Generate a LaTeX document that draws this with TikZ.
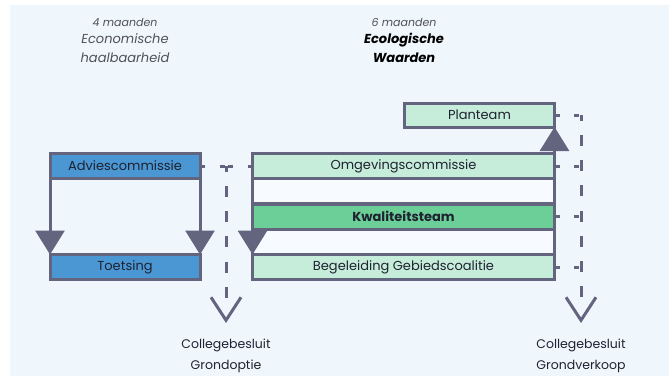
\documentclass[tikz,border=0pt]{standalone}
\usepackage{fontspec}
\setmainfont{Poppins}
\usepackage{tikz}
\usetikzlibrary{arrows.meta, positioning}
\usepackage{xcolor}
\definecolor{paper}{HTML}{EFF6FC}
\definecolor{frame}{HTML}{63657F}
\definecolor{advice}{HTML}{4A97D4}
\definecolor{mint}{HTML}{C6ECDA}
\definecolor{jade}{HTML}{6CCF98}
\definecolor{blank}{HTML}{F7FAFE}
\definecolor{ink}{HTML}{1F2230}
\definecolor{muted}{HTML}{505157}
\tikzset{%
	every box/.style={
		draw=frame,
		line width=3pt,
		inner sep=0pt,
		outer sep=0pt,
		minimum height=25pt,
		text=ink,
		font=\fontsize{13}{15}\selectfont
	},
	box blue/.style={fill=advice, minimum width=150pt},
	box mint/.style={fill=mint, minimum width=302pt},
	box jade/.style={fill=jade, minimum width=302pt, font=\fontsize{13}{15}\selectfont\bfseries},
	box blank/.style={fill=blank, minimum width=302pt},
	flow/.style={draw=frame, line width=3pt, -{Triangle[length=24pt, width=29pt]}},
	link/.style={draw=frame, line width=3pt, dash pattern=on 5pt off 14.5pt},
	rail/.style={draw=frame, line width=3pt, dash pattern=on 11pt off 14.25pt, dash phase=5.5pt},
	vee/.style={draw=frame, line width=3pt, dash pattern=on 0pt off 50pt, -{Straight Barb[length=23pt, width=30pt]}},
}

\begin{document}
\begin{tikzpicture}[x=1pt, y=-1pt]

	\useasboundingbox (0,0) rectangle (669,378);
	\fill [paper] (10,5) rectangle (669,376);

	% headings
	\node [font=\itshape\fontsize{11}{13}\selectfont, text=muted] (econ-months) at (125,22) {4 maanden};
	\node [align=center, font=\itshape\fontsize{13}{19}\selectfont, text=muted] (econ) at (125,48) {Economische\\haalbaarheid};
	\node [font=\itshape\fontsize{11}{13}\selectfont, text=muted] (eco-months) at (404,22) {6 maanden};
	\node [align=center, font=\bfseries\itshape\fontsize{13}{19}\selectfont, text=black] (eco) at (404,48) {Ecologische\\Waarden};

	% left group
	\node [every box/.try, box blue/.try] (advies) at (125,166) {Adviescommissie};
	\node [every box/.try, box blue/.try] (toetsing) at (125,267) {Toetsing};

	% right group
	\node [every box/.try, box mint/.try, minimum width=150pt, minimum height=24pt] (planteam) at (479.5,115) {Planteam};
	\foreach \m/\n/\t [count=\y from 0] in {mint/omgeving/Omgevingscommissie, blank/gap-a/{}, jade/kwaliteit/Kwaliteitsteam, blank/gap-b/{}, mint/begeleiding/Begeleiding Gebiedscoalitie}
	\node [every box/.try, box \m/.try] (\n) at (403.5,166+\y*25.25) {\t};

	\draw [flow] (advies.south west) -- (toetsing.north west);
	\draw [flow] (advies.south east) -- (toetsing.north east);
	\draw [flow] (kwaliteit.south west) -- (begeleiding.north west);
	\draw [flow] (omgeving.north east) -- (planteam.south east);

	% decision lines
	\coordinate (optie-top) at (226,166);
	\coordinate (optie-end) at (226,300);
	\coordinate (optie-tip) at (226,323);
	\coordinate (verkoop-top) at (581,115);
	\coordinate (verkoop-end) at (581,300);
	\coordinate (verkoop-tip) at (581,323);

	\draw [link] (advies.east) -- (optie-top);
	\draw [link] (omgeving.west) -- (optie-top);
	\draw [rail] (optie-top) -- (optie-end);
	\draw [vee] (optie-end) -- (optie-tip);

	\draw [link] (planteam.east) -- (verkoop-top);
	\foreach \n in {omgeving, kwaliteit, begeleiding}
	\draw [link] (\n.east) -- (\n.east -| verkoop-top);
	\draw [rail] (verkoop-top) -- (verkoop-end);
	\draw [vee] (verkoop-end) -- (verkoop-tip);

	\node [align=center, font=\fontsize{12.5}{21}\selectfont, text=ink] (grondoptie) at (226,356) {Collegebesluit\\Grondoptie};
	\node [align=center, font=\fontsize{12.5}{21}\selectfont, text=ink] (grondverkoop) at (581,356) {Collegebesluit\\Grondverkoop};

\end{tikzpicture}
\end{document}
